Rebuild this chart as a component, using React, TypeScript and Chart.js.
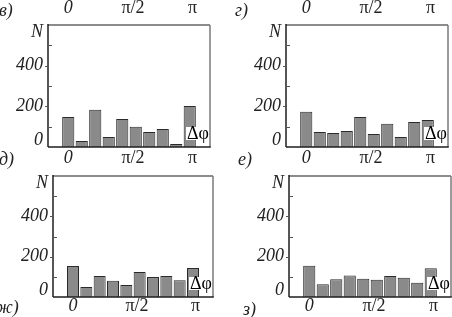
import React, { useEffect, useRef } from 'react';
import { Chart, registerables } from 'chart.js';

Chart.register(...registerables);

// ---- data ----
const BIN_POSITIONS = [0, 1, 2, 3, 4, 5, 6, 7, 8, 9];
const COUNTS_V = [148, 30, 183, 49, 138, 100, 74, 89, 15, 202];
const COUNTS_G = [173, 74, 69, 79, 148, 64, 114, 49, 123, 133];
const COUNTS_ZH = [154, 49, 104, 80, 59, 124, 99, 104, 83, 144];
const COUNTS_Z = [155, 63, 88, 106, 90, 85, 104, 95, 71, 142];

const X_TICK_POS = [0, 4.8, 9.2];
const X_TICK_LABELS = ['0', 'π/2', 'π'];
const Y_TICK_VALUES = [0, 200, 400];
const Y_MINOR_VALUES = [100, 300, 500];
const Y_TITLE = 'N';
const Y_TITLE_POS = 565;
const X_TITLE = 'Δφ';
const LETTERS = ['в)', 'г)', 'д)', 'е)', 'ж)', 'з)'];

const X_MIN = -1.5;
const X_MAX = 10.5;
const Y_MIN = 0;
const Y_MAX = 600;

const FONT = '"Liberation Serif", "Times New Roman", serif';
const TEXT_COLOR = '#222';

type Area = { l: number; r: number; t: number; b: number };

const framePlugin = {
  id: 'frame',
  afterDatasetsDraw(chart: any) {
    const { ctx, chartArea, scales } = chart;
    const { left, right, top, bottom } = chartArea;
    const y = scales.y;
    const line = (x1: number, y1: number, x2: number, y2: number) => {
      ctx.beginPath();
      ctx.moveTo(x1, y1);
      ctx.lineTo(x2, y2);
      ctx.stroke();
    };
    ctx.save();
    ctx.strokeStyle = '#8c8c8c';
    ctx.lineWidth = 2;
    line(left, top, right, top);
    ctx.strokeStyle = '#7a7a7a';
    ctx.lineWidth = 1.5;
    line(right, top, right, bottom);
    ctx.strokeStyle = '#1e1e1e';
    ctx.lineWidth = 1.5;
    line(left, top - 1, left, bottom);
    line(left, bottom, right + 0.75, bottom);
    ctx.lineWidth = 1;
    ctx.strokeStyle = '#555';
    Y_MINOR_VALUES.forEach((v) => {
      const py = Math.round(y.getPixelForValue(v)) + 0.5;
      line(left, py, left + 4, py);
    });
    Y_TICK_VALUES.filter((v) => v > 0).forEach((v) => {
      const py = Math.round(y.getPixelForValue(v)) + 0.5;
      line(left - 3, py, left, py);
    });
    ctx.restore();
  },
};

function xAxis(position: 'top' | 'bottom', size: number, pad: number) {
  return {
    type: 'linear',
    axis: 'x',
    position,
    offset: false,
    min: X_MIN,
    max: X_MAX,
    grid: { display: false, drawTicks: false, offset: false },
    border: { display: false },
    afterBuildTicks: (s: any) => {
      s.ticks = X_TICK_POS.map((v) => ({ value: v }));
    },
    afterFit: (s: any) => {
      s.height = size;
      s.paddingLeft = 0;
      s.paddingRight = 0;
    },
    ticks: {
      autoSkip: false,
      maxRotation: 0,
      minRotation: 0,
      padding: pad,
      color: TEXT_COLOR,
      font: (c: any) => ({
        family: FONT,
        size: 18,
        style: X_TICK_LABELS[c.index] === '0' ? 'italic' : 'normal',
      }),
      callback: (_v: any, i: number) => X_TICK_LABELS[i],
    },
  };
}

function Panel(props: {
  counts: number[];
  left: number;
  top: number;
  w: number;
  h: number;
  area: Area;
  topAxis: boolean;
}) {
  const ref = useRef<HTMLCanvasElement>(null);
  const { counts, left, top, w, h, area, topAxis } = props;
  useEffect(() => {
    if (!ref.current) return;
    const scales: any = {
      x: xAxis('bottom', h - area.b, topAxis ? 0 : -2),
      y: {
        type: 'linear',
        position: 'left',
        min: Y_MIN,
        max: Y_MAX,
        grid: { display: false, drawTicks: false },
        border: { display: false },
        afterBuildTicks: (s: any) => {
          s.ticks = [...Y_TICK_VALUES, Y_TITLE_POS].map((v) => ({ value: v }));
        },
        afterFit: (s: any) => {
          s.width = area.l;
          s.paddingTop = 0;
          s.paddingBottom = 0;
        },
        ticks: {
          autoSkip: false,
          padding: 5,
          color: TEXT_COLOR,
          font: (c: any) => ({
            family: FONT,
            size: 18,
            style: 'italic',
            lineHeight: c.index === 0 ? 0.7 : 1.2,
          }),
          callback: (v: any) =>
            v === Y_TITLE_POS ? Y_TITLE : v === 0 ? ['0', ''] : String(v),
        },
      },
    };
    if (topAxis) scales.x2 = xAxis('top', area.t, 6);
    const chart = new Chart(ref.current, {
      type: 'bar',
      data: {
        datasets: [
          {
            data: BIN_POSITIONS.map((x, i) => ({ x, y: counts[i] })),
            backgroundColor: '#8a8a8a',
            borderColor: '#2a2a2a',
            borderWidth: 1,
            categoryPercentage: 1,
            barPercentage: 0.9,
          },
        ],
      },
      options: {
        animation: false,
        responsive: false,
        devicePixelRatio: 1,
        layout: {
          padding: { left: 0, right: w - area.r, top: topAxis ? 0 : area.t, bottom: 0 },
        },
        plugins: {
          legend: { display: false },
          tooltip: { enabled: false },
        },
        scales,
      } as any,
      plugins: [framePlugin],
    });
    return () => chart.destroy();
  }, []);
  return (
    <>
      <canvas
        ref={ref}
        width={w}
        height={h}
        style={{ position: 'absolute', left, top, width: w, height: h, display: 'block' }}
      />
      <span
        style={{
          position: 'absolute',
          left: left + area.r - 24,
          top: top + area.b - 20,
          width: 23,
          height: 13,
          lineHeight: '13px',
          background: '#fff',
          fontFamily: FONT,
          fontSize: 18,
          color: '#000',
          textAlign: 'right',
        }}
      >
        {X_TITLE}
      </span>
    </>
  );
}

function Letter({ text, left, top }: { text: string; left: number; top: number }) {
  return (
    <span
      style={{
        position: 'absolute',
        left,
        top,
        fontFamily: FONT,
        fontStyle: 'italic',
        fontSize: 18,
        lineHeight: '18px',
        color: TEXT_COLOR,
        whiteSpace: 'nowrap',
      }}
    >
      {text}
    </span>
  );
}

export default function App() {
  return (
    <div
      style={{
        position: 'absolute',
        left: 0,
        top: 0,
        width: 452,
        height: 317,
        overflow: 'hidden',
        background: '#fff',
      }}
    >
      <Panel counts={COUNTS_V} left={0} top={0} w={226} h={170} area={{ l: 48, r: 210, t: 25, b: 147 }} topAxis />
      <Panel counts={COUNTS_G} left={226} top={0} w={226} h={170} area={{ l: 60, r: 222, t: 25, b: 147 }} topAxis />
      <Panel counts={COUNTS_ZH} left={0} top={170} w={226} h={147} area={{ l: 53, r: 213, t: 6, b: 127 }} topAxis={false} />
      <Panel counts={COUNTS_Z} left={226} top={170} w={226} h={147} area={{ l: 63, r: 225, t: 6, b: 127 }} topAxis={false} />
      <Letter text={LETTERS[0]} left={-1} top={1} />
      <Letter text={LETTERS[1]} left={235} top={1} />
      <Letter text={LETTERS[2]} left={-1} top={150} />
      <Letter text={LETTERS[3]} left={238} top={150} />
      <Letter text={LETTERS[4]} left={-4} top={298} />
      <Letter text={LETTERS[5]} left={243} top={300} />
    </div>
  );
}
